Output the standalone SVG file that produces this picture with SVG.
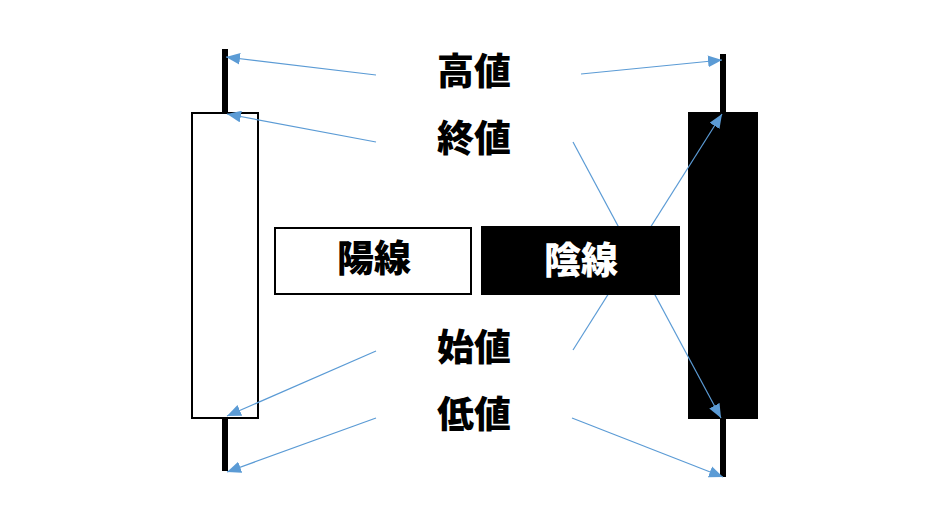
<svg xmlns="http://www.w3.org/2000/svg" width="945" height="531" viewBox="0 0 945 531">
<style>
.lbl{font-family:"Noto Sans CJK JP","Noto Sans CJK SC",sans-serif;font-weight:900;font-size:37px;text-anchor:middle;dominant-baseline:central}
.conn line{stroke:#5B9BD5;stroke-width:1.2;marker-end:url(#ah)}
</style>
<defs>
<marker id="ah" viewBox="0 0 12 10" refX="12" refY="5" markerWidth="14" markerHeight="12" markerUnits="userSpaceOnUse" orient="auto">
<path d="M0,0 L12,5 L0,10 z" fill="#5B9BD5"/>
</marker>
</defs>
<rect width="945" height="531" fill="#fff"/>
<g id="yang-candle">
<rect x="222" y="49" width="6" height="64" fill="#000"/>
<rect x="222" y="417" width="6" height="54" fill="#000"/>
<rect x="192" y="113" width="66" height="305" fill="#fff" stroke="#000" stroke-width="2"/>
</g>
<g id="yin-candle">
<rect x="720" y="54" width="6" height="60" fill="#000"/>
<rect x="720" y="417" width="6" height="60" fill="#000"/>
<rect x="688" y="112" width="70" height="307" fill="#000"/>
</g>
<g id="connectors" class="conn">
<line x1="376" y1="75" x2="226" y2="57"/>
<line x1="376" y1="142" x2="227" y2="114"/>
<line x1="581" y1="74" x2="722" y2="60"/>
<line x1="573" y1="142" x2="721" y2="418"/>
<line x1="573" y1="350" x2="722" y2="114"/>
<line x1="376" y1="351" x2="227" y2="416"/>
<line x1="376" y1="418" x2="227" y2="472"/>
<line x1="572" y1="418" x2="723" y2="477"/>
</g>
<g id="yang-box">
<rect x="275" y="228" width="196" height="66" fill="#fff" stroke="#000" stroke-width="2"/>
<text class="lbl" x="374" y="256">陽線</text>
</g>
<g id="yin-box">
<rect x="481" y="226" width="199" height="69" fill="#000"/>
<text class="lbl" x="581" y="258" fill="#fff">陰線</text>
</g>
<g id="label-high"><text class="lbl" x="474" y="69">高値</text></g>
<g id="label-close"><text class="lbl" x="474" y="136">終値</text></g>
<g id="label-open"><text class="lbl" x="474" y="345">始値</text></g>
<g id="label-low"><text class="lbl" x="474" y="412">低値</text></g>
</svg>
